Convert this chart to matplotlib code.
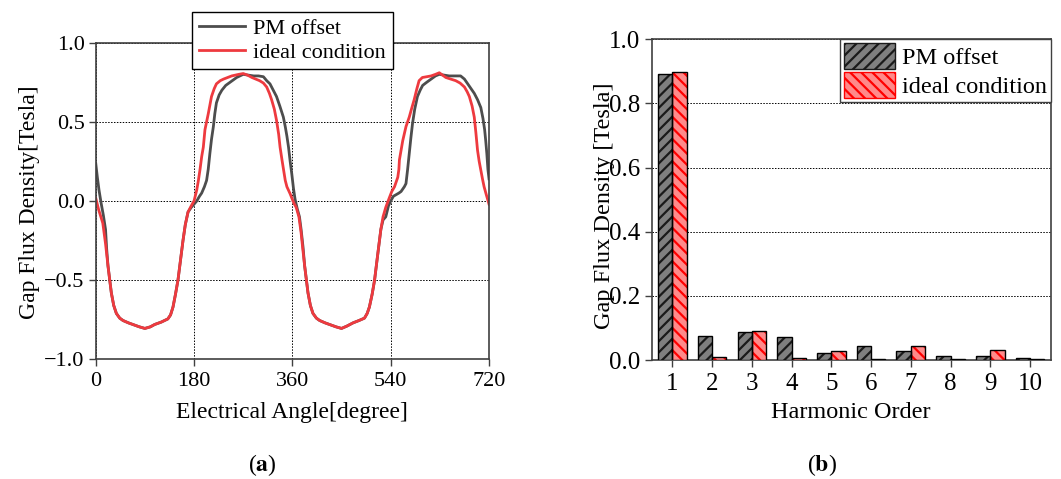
import numpy as np
import matplotlib
matplotlib.use("Agg")
import matplotlib.pyplot as plt
from matplotlib.patches import Patch

plt.rcParams["font.family"] = ["Liberation Serif", "DejaVu Serif"]
plt.rcParams["font.size"] = 16
plt.rcParams["mathtext.fontset"] = "stix"

# (a) 气隙磁密波形
ideal_deg = [0, 5, 13, 18, 22.5, 28.6, 33, 37.8, 44, 50, 60, 68, 80, 90, 100, 108,
             120, 132, 137, 141.5, 146, 150.6, 155, 159.8, 164, 169, 175, 180, 185,
             188, 191, 194, 197, 200, 206, 212, 217, 221, 228, 234, 249, 262, 270,
             278, 286, 300, 307, 313, 318, 322, 327, 331, 335, 337.5, 341, 344, 347,
             350, 356, 360, 363, 367, 372, 376, 379, 382.5, 388.6, 393, 397.7, 404,
             410, 420, 428, 440, 450, 460, 471, 482, 492, 497, 501, 506, 510.5, 514,
             518, 522, 526, 531, 537.5, 542, 547, 553, 555, 556, 562, 568, 574, 578,
             583, 588, 592, 598, 606, 614, 622, 629, 635, 641, 650, 659, 667, 675,
             680, 684, 689, 693, 696, 699, 702, 705, 708, 711, 715, 720]
ideal_b = [0.02, -0.05, -0.14, -0.27, -0.41, -0.58, -0.66, -0.71, -0.74, -0.755,
           -0.77, -0.78, -0.795, -0.805, -0.795, -0.78, -0.765, -0.745, -0.72, -0.67,
           -0.59, -0.50, -0.38, -0.25, -0.15, -0.07, -0.03, 0.00, 0.07, 0.13, 0.20,
           0.28, 0.34, 0.45, 0.55, 0.66, 0.71, 0.74, 0.76, 0.77, 0.79, 0.80, 0.805,
           0.795, 0.78, 0.76, 0.745, 0.72, 0.68, 0.64, 0.58, 0.51, 0.42, 0.34, 0.26,
           0.195, 0.13, 0.09, 0.045, 0.01, -0.015, -0.04, -0.10, -0.20, -0.30, -0.41,
           -0.58, -0.66, -0.71, -0.74, -0.755, -0.77, -0.78, -0.795, -0.805, -0.79,
           -0.77, -0.755, -0.74, -0.71, -0.67, -0.59, -0.50, -0.40, -0.29, -0.18,
           -0.10, -0.04, 0.02, 0.06, 0.09, 0.15, 0.20, 0.26, 0.38, 0.47, 0.53, 0.58,
           0.64, 0.71, 0.76, 0.78, 0.785, 0.79, 0.80, 0.81, 0.795, 0.78, 0.77, 0.76,
           0.745, 0.72, 0.69, 0.66, 0.60, 0.53, 0.43, 0.32, 0.25, 0.195, 0.14, 0.09,
           0.04, -0.02]

offset_deg = [0, 3, 6, 10, 14, 18, 20, 22.5, 28.6, 33, 37.8, 44, 50, 60, 68, 80, 90,
              100, 108, 120, 132, 137, 141.5, 146, 150.6, 155, 159.8, 164, 169, 175,
              180, 185, 190, 194, 199, 203, 206, 209, 212, 215.4, 218, 221, 226, 231,
              238, 246, 258, 270, 280, 289, 298, 307, 313, 319, 325, 331, 337, 343.5,
              347, 350, 353, 356, 359, 362, 365, 369, 373, 376, 379.5, 382.5, 388.6,
              393, 397.7, 404, 410, 420, 428, 440, 450, 460, 471, 482, 492, 497, 501,
              506, 510.5, 514, 518, 522, 526, 531, 536, 541, 545, 550, 555, 559, 565,
              568, 571, 574, 577, 580, 584, 589, 594, 598.5, 606, 614, 622, 629, 638,
              647, 658, 668, 675, 681, 687, 693, 699, 705, 709, 712, 714, 716, 718, 720]
offset_b = [0.24, 0.15, 0.07, -0.015, -0.09, -0.18, -0.30, -0.41, -0.58, -0.66,
            -0.71, -0.74, -0.755, -0.77, -0.78, -0.795, -0.805, -0.795, -0.78, -0.765,
            -0.745, -0.72, -0.67, -0.59, -0.50, -0.38, -0.25, -0.15, -0.07, -0.04,
            -0.02, 0.00, 0.03, 0.05, 0.09, 0.13, 0.20, 0.30, 0.39, 0.47, 0.55, 0.62,
            0.67, 0.70, 0.73, 0.75, 0.78, 0.80, 0.795, 0.79, 0.79, 0.785, 0.76, 0.74,
            0.70, 0.66, 0.60, 0.53, 0.47, 0.41, 0.34, 0.25, 0.17, 0.08, 0.01, -0.05,
            -0.10, -0.18, -0.29, -0.41, -0.58, -0.66, -0.71, -0.74, -0.755, -0.77,
            -0.78, -0.795, -0.805, -0.79, -0.77, -0.755, -0.74, -0.71, -0.67, -0.59,
            -0.50, -0.40, -0.29, -0.18, -0.12, -0.10, -0.03, 0.006, 0.03, 0.04, 0.05,
            0.06, 0.09, 0.11, 0.20, 0.30, 0.40, 0.49, 0.58, 0.66, 0.70, 0.73, 0.75,
            0.77, 0.79, 0.80, 0.795, 0.79, 0.79, 0.79, 0.77, 0.74, 0.71, 0.68, 0.64,
            0.59, 0.52, 0.45, 0.38, 0.30, 0.20, 0.14]

# (b) 谐波幅值
orders = [1, 2, 3, 4, 5, 6, 7, 8, 9, 10]
offset_harm = [0.892, 0.074, 0.087, 0.071, 0.023, 0.043, 0.028, 0.012, 0.014, 0.006]
ideal_harm = [0.898, 0.009, 0.091, 0.007, 0.029, 0.004, 0.043, 0.002, 0.030, 0.004]

GRAY = "#4d4d4d"
RED = "#ee3a3f"
SPINE = "#404040"

fig = plt.figure(figsize=(10.61, 4.79), dpi=100)
ax1 = fig.add_axes([0.0902, 0.2499, 0.3707, 0.6610])
ax2 = fig.add_axes([0.6142, 0.2484, 0.3761, 0.6695])

# 左图：波形
ax1.plot(offset_deg, offset_b, color=GRAY, lw=2.0, label="PM offset")
ax1.plot(ideal_deg, ideal_b, color=RED, lw=2.0, label="ideal condition")
ax1.set_xlim(0, 720)
ax1.set_ylim(-1.0, 1.0)
ax1.set_xticks([0, 180, 360, 540, 720])
ax1.set_yticks([-1.0, -0.5, 0.0, 0.5, 1.0])
ax1.set_yticklabels(["\u22121.0", "\u22120.5", "0.0", "0.5", "1.0"])
ax1.grid(True, color="black", ls=(0, (1.5, 1.5)), lw=0.7)
ax1.set_xlabel("Electrical Angle[degree]", fontsize=17)
ax1.set_ylabel("Gap Flux Density[Tesla]", fontsize=17)
ax1.xaxis.set_label_coords(0.5, -0.135)
ax1.yaxis.set_label_coords(-0.142, 0.495)
leg1 = ax1.legend(loc="upper center", bbox_to_anchor=(0.5, 1.098), frameon=True,
                  fancybox=False, edgecolor="black", framealpha=1, fontsize=16,
                  handlelength=2.1, labelspacing=0.15, borderpad=0.3,
                  handletextpad=0.35, borderaxespad=0)
leg1.get_frame().set_linewidth(1.0)

# 右图：谐波柱状图
w = 0.36
x = np.array(orders)
plt.rcParams["hatch.linewidth"] = 1.6
ax2.bar(x - w / 2, offset_harm, w, color="#7f7f7f", edgecolor="#1a1a1a",
        hatch="///", lw=0, zorder=3)
ax2.bar(x - w / 2, offset_harm, w, fill=False, edgecolor="black", lw=1.0, zorder=4)
ax2.bar(x + w / 2, ideal_harm, w, color="#ff8a8a", edgecolor="#ff0000",
        hatch="\\\\\\", lw=0, zorder=3)
ax2.bar(x + w / 2, ideal_harm, w, fill=False, edgecolor="black", lw=1.0, zorder=4)
ax2.set_xlim(0.48, 10.52)
ax2.set_ylim(0, 1.0)
ax2.set_xticks(orders)
ax2.set_yticks([0.0, 0.2, 0.4, 0.6, 0.8, 1.0])
ax2.set_yticklabels(["0.0", "0.2", "0.4", "0.6", "0.8", "1.0"])
ax2.yaxis.grid(True, color="black", ls=(0, (1.5, 1.5)), lw=0.7, zorder=0)
ax2.set_axisbelow(True)
ax2.set_xlabel("Harmonic Order", fontsize=17.5)
ax2.set_ylabel("Gap Flux Density [Tesla]", fontsize=17.5)
ax2.xaxis.set_label_coords(0.5, -0.13)
ax2.yaxis.set_label_coords(-0.092, 0.48)

handles = [Patch(facecolor="#7f7f7f", edgecolor="#1a1a1a", hatch="///", lw=1),
           Patch(facecolor="#ff8a8a", edgecolor="#ff0000", hatch="\\\\\\", lw=1)]
leg2 = ax2.legend(handles, ["PM offset", "ideal condition"], loc="upper right",
                  frameon=True, fancybox=False, edgecolor="#404040", framealpha=1,
                  fontsize=17.5, handlelength=2.1, handleheight=1.3,
                  labelspacing=0.1, borderpad=0.15, handletextpad=0.3,
                  borderaxespad=0)

for ax, fs in ((ax1, 16), (ax2, 18)):
    for s in ax.spines.values():
        s.set_color(SPINE)
        s.set_linewidth(1.2)
    ax.tick_params(direction="out", length=5, width=1, color=SPINE, pad=3,
                   labelsize=fs)
    ax.tick_params(axis="x", pad=4)

fig.text(0.2475, 0.029, r"($\mathbf{a}$)", ha="center", va="center", fontsize=17)
fig.text(0.7745, 0.029, r"($\mathbf{b}$)", ha="center", va="center", fontsize=17)

fig.savefig("out.png", dpi=100)
